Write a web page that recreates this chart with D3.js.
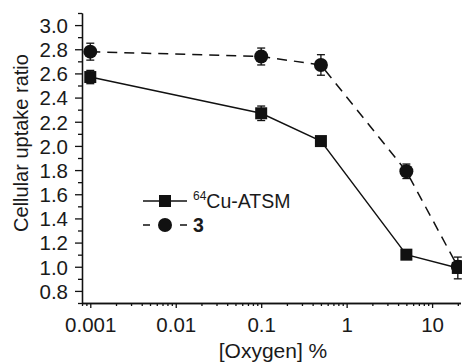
<!DOCTYPE html>
<html>
<head>
<meta charset="utf-8">
<script src="https://cdn.jsdelivr.net/npm/d3@7"></script>
<style>
  body { margin: 0; background: #fff; }
  text { font-family: "Liberation Sans", Arial, sans-serif; fill: #1a1a1a; }
</style>
</head>
<body>
<div id="chart"></div>
<script>
// data
var oxygen = [0.001, 0.1, 0.5, 5, 20];
var cuAtsm = [2.57, 2.27, 2.04, 1.10, 0.99];
var cuAtsmErr = [0.055, 0.06, 0.03, 0.02, 0.09];
var cmpd3 = [2.78, 2.74, 2.67, 1.79, 1.00];
var cmpd3Err = [0.07, 0.07, 0.085, 0.06, 0.05];
var xTickValues = [0.001, 0.01, 0.1, 1, 10];
var xTickLabels = ["0.001", "0.01", "0.1", "1", "10"];
var yTickValues = [0.8, 1.0, 1.2, 1.4, 1.6, 1.8, 2.0, 2.2, 2.4, 2.6, 2.8, 3.0];
var yMinorValues = [0.7, 0.9, 1.1, 1.3, 1.5, 1.7, 1.9, 2.1, 2.3, 2.5, 2.7, 2.9, 3.1];

var width = 462, height = 363;

var svg = d3.select("#chart").append("svg")
    .attr("width", width)
    .attr("height", height);

var x = d3.scaleLog().domain([0.0008, 21.5]).range([82, 460.5]);
var y = d3.scaleLinear().domain([0.7, 3.1]).range([303, 13]);

// minor x ticks: 2..9 in each decade
var xMinor = [];
[0.0001, 0.001, 0.01, 0.1, 1, 10].forEach(function (d) {
    for (var k = 2; k <= 9; k++) {
        var v = d * k;
        if (v >= 0.0008 && v <= 21.5) xMinor.push(v);
    }
});

// axes
var xAxis = svg.append("g").attr("transform", "translate(0,303)")
    .call(d3.axisBottom(x).tickValues(xTickValues).tickSize(5).tickSizeOuter(0)
        .tickFormat(function (d, i) { return xTickLabels[i]; }));
svg.append("g").attr("transform", "translate(0,303)")
    .call(d3.axisBottom(x).tickValues(xMinor).tickSize(3).tickSizeOuter(0).tickFormat(""));

var yAxis = svg.append("g").attr("transform", "translate(82,0)")
    .call(d3.axisLeft(y).tickValues(yTickValues).tickSize(7).tickSizeOuter(0)
        .tickFormat(d3.format(".1f")));
svg.append("g").attr("transform", "translate(82,0)")
    .call(d3.axisLeft(y).tickValues(yMinorValues).tickSize(4).tickSizeOuter(0).tickFormat(""));

svg.selectAll(".domain, .tick line").attr("stroke", "#111").attr("stroke-width", 1.3);
xAxis.selectAll("text").attr("font-size", 20.5).attr("dy", "1.0em").attr("fill", "#1a1a1a");
yAxis.selectAll("text").attr("font-size", 20.5).attr("dy", "0.36em").attr("x", -14).attr("fill", "#1a1a1a");

// axis titles
svg.append("text")
    .attr("x", 273).attr("y", 358)
    .attr("text-anchor", "middle")
    .attr("font-size", 21)
    .text("[Oxygen] %");
svg.append("text")
    .attr("transform", "translate(28,143) rotate(-90)")
    .attr("text-anchor", "middle")
    .attr("font-size", 20)
    .text("Cellular uptake ratio");

var line = d3.line()
    .x(function (d) { return x(d[0]); })
    .y(function (d) { return y(d[1]); });

function drawErrors(vals, errs) {
    var g = svg.append("g").attr("stroke", "#111").attr("stroke-width", 1.3);
    vals.forEach(function (v, i) {
        var cx = x(oxygen[i]);
        g.append("line").attr("x1", cx).attr("x2", cx).attr("y1", y(v - errs[i])).attr("y2", y(v + errs[i]));
        g.append("line").attr("x1", cx - 4).attr("x2", cx + 4).attr("y1", y(v - errs[i])).attr("y2", y(v - errs[i]));
        g.append("line").attr("x1", cx - 4).attr("x2", cx + 4).attr("y1", y(v + errs[i])).attr("y2", y(v + errs[i]));
    });
}

// compound 3 (dashed, circles)
var pts3 = oxygen.map(function (o, i) { return [o, cmpd3[i]]; });
svg.append("path").datum(pts3)
    .attr("d", line).attr("fill", "none")
    .attr("stroke", "#111").attr("stroke-width", 1.5)
    .attr("stroke-dasharray", "10,7");
drawErrors(cmpd3, cmpd3Err);
svg.selectAll(".c3").data(pts3).enter().append("circle")
    .attr("cx", function (d) { return x(d[0]); })
    .attr("cy", function (d) { return y(d[1]); })
    .attr("r", 7).attr("fill", "#111");

// 64Cu-ATSM (solid, squares)
var ptsCu = oxygen.map(function (o, i) { return [o, cuAtsm[i]]; });
svg.append("path").datum(ptsCu)
    .attr("d", line).attr("fill", "none")
    .attr("stroke", "#111").attr("stroke-width", 1.4);
drawErrors(cuAtsm, cuAtsmErr);
svg.selectAll(".sq").data(ptsCu).enter().append("rect")
    .attr("x", function (d) { return x(d[0]) - 6; })
    .attr("y", function (d) { return y(d[1]) - 6; })
    .attr("width", 12).attr("height", 12).attr("fill", "#111");

// legend
var lg = svg.append("g");
lg.append("line").attr("x1", 143).attr("x2", 187).attr("y1", 201).attr("y2", 201)
    .attr("stroke", "#111").attr("stroke-width", 1.4);
lg.append("rect").attr("x", 159).attr("y", 195).attr("width", 12).attr("height", 12).attr("fill", "#111");
var t1 = lg.append("text").attr("x", 193).attr("y", 208).attr("font-size", 19.5);
t1.append("tspan").attr("font-size", 12).attr("dy", -8).text("64");
t1.append("tspan").attr("dy", 8).text("Cu-ATSM");

lg.append("line").attr("x1", 143).attr("x2", 187).attr("y1", 225).attr("y2", 225)
    .attr("stroke", "#111").attr("stroke-width", 1.5).attr("stroke-dasharray", "7,30");
lg.append("circle").attr("cx", 165).attr("cy", 225).attr("r", 7).attr("fill", "#111");
lg.append("text").attr("x", 193).attr("y", 232).attr("font-size", 19.5).attr("font-weight", "bold").text("3");
</script>
</body>
</html>
